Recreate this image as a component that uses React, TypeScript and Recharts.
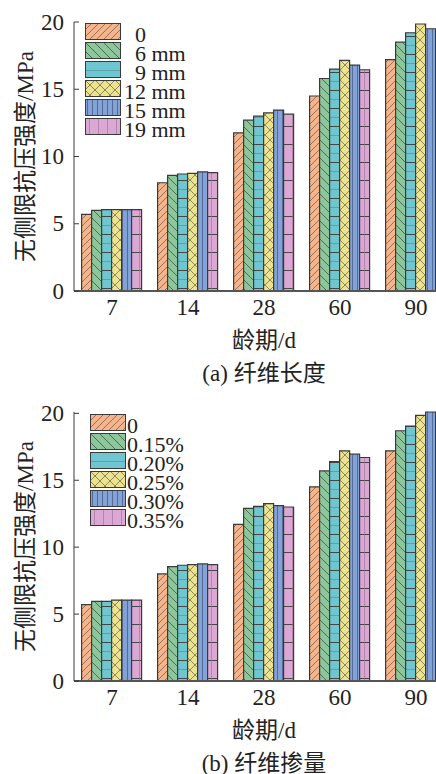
import { BarChart, Bar, XAxis, YAxis, Label } from "recharts"

// curing age (days)
const AGES = ["7", "14", "28", "60", "90"]

// (a) fiber length groups
const LENGTH_NAMES = ["0", "6 mm", "9 mm", "12 mm", "15 mm", "19 mm"]
const LEN_0 = [5.7, 8.05, 11.75, 14.5, 17.2]
const LEN_6 = [6.0, 8.6, 12.7, 15.8, 18.5]
const LEN_9 = [6.05, 8.7, 13.0, 16.5, 19.2]
const LEN_12 = [6.05, 8.75, 13.25, 17.15, 19.85]
const LEN_15 = [6.05, 8.85, 13.45, 16.8, 19.5]
const LEN_19 = [6.05, 8.8, 13.15, 16.45, 19.4]

// (b) fiber content groups
const CONTENT_NAMES = ["0", "0.15%", "0.20%", "0.25%", "0.30%", "0.35%"]
const PCT_0 = [5.7, 8.0, 11.7, 14.5, 17.2]
const PCT_015 = [5.95, 8.55, 12.9, 15.7, 18.7]
const PCT_020 = [5.95, 8.65, 13.05, 16.4, 19.05]
const PCT_025 = [6.05, 8.7, 13.25, 17.2, 19.85]
const PCT_030 = [6.05, 8.75, 13.1, 16.95, 20.1]
const PCT_035 = [6.05, 8.7, 13.0, 16.7, 20.0]

const Y_TICKS = [0, 5, 10, 15, 20]

const FILLS = ["#F4B48C", "#8EC69C", "#6FC6D1", "#EDE38F", "#82A2D8", "#DBA7D3"]
const INK = "#3a3a3a"
const FONT = "'Liberation Serif', 'Noto Sans CJK SC', serif"

function Hatch({ id, kind }: { id: string; kind: number }) {
    const bg = FILLS[kind]
    if (kind === 0) {
        return (
            <pattern id={id} patternUnits="userSpaceOnUse" width={7} height={7}>
                <rect width={7} height={7} fill={bg} />
                <path d="M0,7 L7,0 M-2,2 L2,-2 M5,9 L9,5" stroke="#5a4034" strokeWidth={0.6} />
            </pattern>
        )
    }
    if (kind === 1) {
        return (
            <pattern id={id} patternUnits="userSpaceOnUse" width={9} height={9}>
                <rect width={9} height={9} fill={bg} />
                <path d="M0,0 L9,9 M-2,7 L2,11 M7,-2 L11,2" stroke="#2c4a34" strokeWidth={0.7} />
            </pattern>
        )
    }
    if (kind === 2) {
        return (
            <pattern id={id} patternUnits="userSpaceOnUse" width={10} height={18}>
                <rect width={10} height={18} fill={bg} />
                <line x1={0} y1={0.5} x2={10} y2={0.5} stroke={INK} strokeWidth={0.9} />
                <line x1={0} y1={9.5} x2={10} y2={9.5} stroke="#55a4ae" strokeWidth={1} />
            </pattern>
        )
    }
    if (kind === 3) {
        return (
            <pattern id={id} patternUnits="userSpaceOnUse" width={10} height={10}>
                <rect width={10} height={10} fill={bg} />
                <path d="M0,0 L10,10 M0,10 L10,0" stroke="#4a4a3a" strokeWidth={0.6} />
            </pattern>
        )
    }
    if (kind === 4) {
        return (
            <pattern id={id} patternUnits="userSpaceOnUse" width={5} height={10}>
                <rect width={5} height={10} fill={bg} />
                <line x1={2.5} y1={0} x2={2.5} y2={10} stroke="#34466a" strokeWidth={0.6} />
            </pattern>
        )
    }
    return (
        <pattern id={id} patternUnits="userSpaceOnUse" width={9} height={18}>
            <rect width={9} height={18} fill={bg} />
            <line x1={0} y1={0.5} x2={9} y2={0.5} stroke={INK} strokeWidth={0.9} />
            <line x1={4.5} y1={0} x2={4.5} y2={18} stroke="#9a6f96" strokeWidth={0.6} />
        </pattern>
    )
}

function YTick(props: any) {
    const { y, payload } = props
    return (
        <g>
            <line x1={74} y1={y} x2={79} y2={y} stroke={INK} strokeWidth={1} />
            <text x={64} y={y} textAnchor="end" dominantBaseline="central"
                fontFamily={FONT} fontSize={23} fill="#222">
                {payload.value}
            </text>
        </g>
    )
}

function LegendBox({ prefix, names, left, top, split }: any) {
    return (
        <div style={{ position: "absolute", left, top, fontFamily: FONT, fontSize: 22, color: "#222" }}>
            {names.map((name: string, k: number) => {
                const [num, unit] = name.split(" ")
                return (
                    <div key={name} style={{ display: "flex", height: 19, alignItems: "flex-start" }}>
                        <svg width={36} height={17} style={{ display: "block" }}>
                            <defs>
                                <Hatch id={`${prefix}-leg${k}`} kind={k} />
                            </defs>
                            <rect x={0.5} y={0.5} width={35} height={16}
                                fill={`url(#${prefix}-leg${k})`} stroke={INK} />
                        </svg>
                        {split ? (
                            <span style={{ lineHeight: "19px", marginTop: 2, whiteSpace: "pre" }}>
                                <span style={{ display: "inline-block", width: 25, textAlign: "right" }}>{num}</span>
                                {unit ? ` ${unit}` : ""}
                            </span>
                        ) : (
                            <span style={{ lineHeight: "19px", marginTop: 2, marginLeft: 1 }}>{name}</span>
                        )}
                    </div>
                )
            })}
        </div>
    )
}

function StrengthChart({ prefix, names, series, caption, legendLeft, legendTop, split }: any) {
    const data = AGES.map((age, i) => {
        const row: any = { age }
        series.forEach((s: number[], k: number) => {
            row[`s${k}`] = s[i]
        })
        return row
    })

    return (
        <div style={{ position: "relative", width: 436, height: 390, overflow: "hidden" }}>
            <BarChart width={480} height={390} data={data}
                margin={{ top: 22, right: 26, bottom: 69, left: 0 }}
                barCategoryGap="10%" barGap={0}>
                <defs>
                    {names.map((_: string, k: number) => (
                        <Hatch key={k} id={`${prefix}-p${k}`} kind={k} />
                    ))}
                </defs>
                <XAxis dataKey="age" height={30} tickLine={false} tickSize={0} tickMargin={8}
                    axisLine={{ stroke: "#555", strokeWidth: 2 }}
                    tick={{ fontFamily: FONT, fontSize: 23, fill: "#222" }}>
                    <Label content={(p: any) => {
                        const vb = p.viewBox
                        const cx = vb.x + vb.width / 2
                        return (
                            <g fontFamily={FONT} fontSize={23} fill="#222">
                                <text x={cx} y={vb.y + 49} textAnchor="middle" dominantBaseline="central">龄期/d</text>
                                <text x={cx} y={vb.y + 82} textAnchor="middle" dominantBaseline="central">{caption}</text>
                            </g>
                        )
                    }} />
                </XAxis>
                <YAxis width={74} domain={[0, 20]} ticks={Y_TICKS} tickLine={false} tickSize={0}
                    axisLine={{ stroke: INK, strokeWidth: 1 }} tick={<YTick />}>
                    <Label content={(p: any) => {
                        const vb = p.viewBox
                        const cy = vb.y + vb.height / 2
                        return (
                            <text x={25} y={cy} transform={`rotate(-90 25 ${cy})`} textAnchor="middle"
                                dominantBaseline="central" fontFamily={FONT} fontSize={23} fill="#222">
                                无侧限抗压强度/MPa
                            </text>
                        )
                    }} />
                </YAxis>
                {names.map((name: string, k: number) => (
                    <Bar key={name} dataKey={`s${k}`} name={name}
                        fill={`url(#${prefix}-p${k})`} stroke={INK} strokeWidth={1.2}
                        isAnimationActive={false} />
                ))}
            </BarChart>
            <LegendBox prefix={prefix} names={names} left={legendLeft} top={legendTop} split={split} />
        </div>
    )
}

export default function App() {
    return (
        <div style={{ position: "fixed", left: 0, top: 0, width: 436, height: 774, overflow: "hidden", background: "#fff" }}>
            <StrengthChart prefix="len" names={LENGTH_NAMES}
                series={[LEN_0, LEN_6, LEN_9, LEN_12, LEN_15, LEN_19]}
                caption="(a) 纤维长度" legendLeft={85} legendTop={23} split />
            <StrengthChart prefix="pct" names={CONTENT_NAMES}
                series={[PCT_0, PCT_015, PCT_020, PCT_025, PCT_030, PCT_035]}
                caption="(b) 纤维掺量" legendLeft={90} legendTop={24} split={false} />
        </div>
    )
}
